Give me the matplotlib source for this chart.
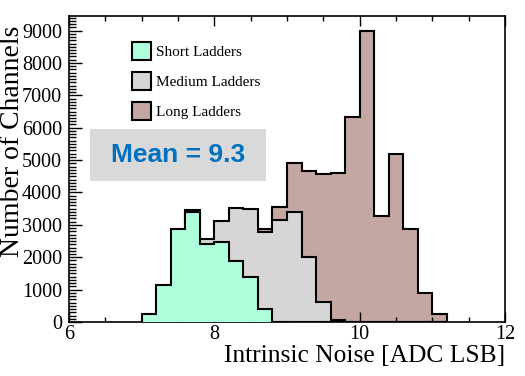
import numpy as np
import matplotlib
matplotlib.use("Agg")
import matplotlib.pyplot as plt
from matplotlib.patches import Patch, Rectangle
from matplotlib.ticker import MultipleLocator

# Histogram bin edges (ADC LSB), 0.2 wide
bin_edges = [7.0, 7.2, 7.4, 7.6, 7.8, 8.0, 8.2, 8.4, 8.6, 8.8, 9.0,
             9.2, 9.4, 9.6, 9.8, 10.0, 10.2, 10.4, 10.6, 10.8, 11.0, 11.2]

# Channel counts per bin
short_counts = [250, 1150, 2860, 3390, 2400, 2480, 1880, 1400, 390, 0, 0,
                0, 0, 0, 0, 0, 0, 0, 0, 0, 0]
medium_counts = [0, 150, 900, 3470, 2550, 3110, 3520, 3500, 2790, 3150, 3400,
                 2010, 630, 60, 0, 0, 0, 0, 0, 0, 0]
long_counts = [0, 0, 0, 0, 0, 300, 900, 1900, 2870, 3560, 4900,
               4660, 4580, 4590, 6320, 8980, 3280, 5190, 2860, 890, 250]

labels = ["Short Ladders", "Medium Ladders", "Long Ladders"]
colors = ["#b0ffdc", "#d6d6d6", "#c4a7a1"]
mean_text = "Mean = 9.3"

plt.rcParams["font.family"] = ["Liberation Serif", "DejaVu Serif"]

fig = plt.figure(figsize=(5.25, 3.76), dpi=100)
ax = fig.add_axes([0.1314, 0.1436, 0.8306, 0.8138])

# Draw back to front: long, medium, short
for counts, color, z in [(long_counts, colors[2], 1),
                         (medium_counts, colors[1], 2),
                         (short_counts, colors[0], 3)]:
    ax.stairs(counts, bin_edges, fill=True, facecolor=color,
              edgecolor="black", linewidth=1.5, zorder=z)

ax.set_xlim(6, 12)
ax.set_ylim(0, 9450)

ax.xaxis.set_major_locator(MultipleLocator(2))
ax.xaxis.set_minor_locator(MultipleLocator(0.5))
ax.yaxis.set_major_locator(MultipleLocator(1000))
ax.yaxis.set_minor_locator(MultipleLocator(100))

ax.tick_params(axis="x", which="both", direction="in", top=True, bottom=True,
               labelsize=14.5, pad=2, width=1.0)
ax.tick_params(axis="x", which="major", length=7.2)
ax.tick_params(axis="x", which="minor", length=3.6)
ax.tick_params(axis="y", which="both", direction="in", left=True, right=False,
               labelsize=14.5, pad=5, width=1.0)
ax.tick_params(axis="y", which="major", length=9.6)
ax.tick_params(axis="y", which="minor", length=4.7)

for s in ax.spines.values():
    s.set_linewidth(1.2)

ax.set_xlabel("Intrinsic Noise [ADC LSB]", fontsize=18.4, loc="right",
              labelpad=1)
ax.set_ylabel("Number of Channels", fontsize=20, loc="top")
ax.yaxis.set_label_coords(-0.100, 0.968)

handles = [Patch(facecolor=c, edgecolor="black", linewidth=1.5) for c in colors]
ax.legend(handles, labels, loc="upper left", bbox_to_anchor=(0.1445, 0.9150),
          frameon=False, fontsize=11, handlelength=1.24, handleheight=1.45,
          handletextpad=0.3, labelspacing=0.78, borderpad=0, borderaxespad=0)

ax.add_patch(Rectangle((0.048, 0.4608), 0.4037, 0.170, transform=ax.transAxes,
                       facecolor="#d9d9d9", edgecolor="none", zorder=4))
ax.text(0.25, 0.5458, mean_text, transform=ax.transAxes, ha="center",
        va="center", fontsize=19, fontweight="bold", color="#0070c0",
        family=["Liberation Sans", "DejaVu Sans"], zorder=5)

fig.savefig("out.png", dpi=100)
